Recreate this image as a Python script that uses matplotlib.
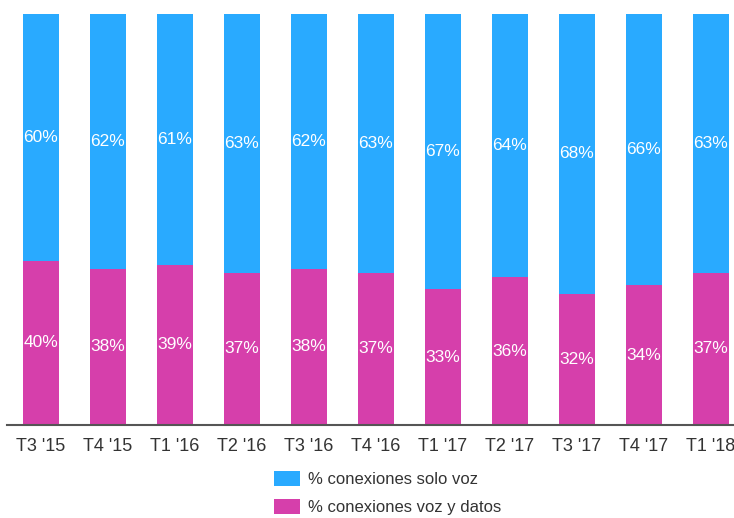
import matplotlib.pyplot as plt
import numpy as np

plt.rcParams['font.family'] = ['Liberation Sans', 'DejaVu Sans']

# quarters and shares (%)
quarters = ["T3 '15", "T4 '15", "T1 '16", "T2 '16", "T3 '16", "T4 '16",
            "T1 '17", "T2 '17", "T3 '17", "T4 '17", "T1 '18"]
solo_voz = [60, 62, 61, 63, 62, 63, 67, 64, 68, 66, 63]
voz_datos = [40, 38, 39, 37, 38, 37, 33, 36, 32, 34, 37]

c_blue = '#29aaff'
c_mag = '#d63fab'

fig = plt.figure(figsize=(7.34, 5.18), dpi=100)
ax = fig.add_axes([0.0102, 0.1795, 1.004, 0.7934])

x = np.arange(len(quarters))
b1 = ax.bar(x, voz_datos, width=0.55, color=c_mag, label='% conexiones voz y datos')
b2 = ax.bar(x, solo_voz, width=0.55, bottom=voz_datos, color=c_blue,
            label='% conexiones solo voz')

for i in range(len(x)):
    ax.text(x[i], voz_datos[i] / 2, f'{voz_datos[i]}%', ha='center', va='center',
            color='white', fontsize=12.5)
    ax.text(x[i], voz_datos[i] + solo_voz[i] / 2, f'{solo_voz[i]}%', ha='center',
            va='center', color='white', fontsize=12.5)

ax.set_xlim(-0.5, len(x) - 0.5)
ax.set_ylim(0, 100)
ax.set_xticks(x)
ax.set_xticklabels(quarters, fontsize=13, color='#333333')
ax.tick_params(axis='x', length=0, pad=9)
ax.set_yticks([])
for s in ['top', 'right', 'left']:
    ax.spines[s].set_visible(False)
ax.spines['bottom'].set_color('#555555')
ax.spines['bottom'].set_linewidth(1.5)

fig.legend(handles=[b2, b1], loc='upper left', bbox_to_anchor=(0.373, 0.0915),
           frameon=False, fontsize=12, handlelength=1.56, handleheight=1.08,
           handletextpad=0.5, labelspacing=0.68, borderpad=0, borderaxespad=0,
           labelcolor='#333333')

fig.savefig('out.png', dpi=100)
